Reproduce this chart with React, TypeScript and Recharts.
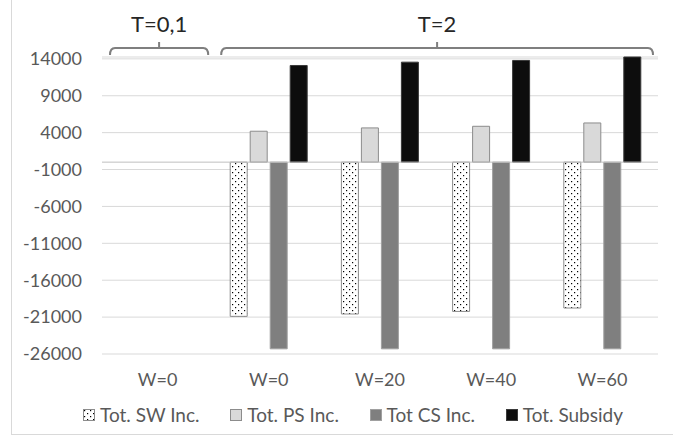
import React from "react";
import {
  BarChart,
  Bar,
  XAxis,
  YAxis,
  CartesianGrid,
  ReferenceLine,
} from "recharts";

// categories on the x axis
const categories = ["W=0", "W=0", "W=20", "W=40", "W=60"];

// series values (first category has no bars)
const swInc = [null, -20900, -20580, -20230, -19770];
const psInc = [null, 4190, 4640, 4860, 5310];
const csInc = [null, -25300, -25300, -25300, -25300];
const subsidy = [null, 13100, 13550, 13780, 14250];

const yTicks = [14000, 9000, 4000, -1000, -6000, -11000, -16000, -21000, -26000];

// period brackets above the plot, by category index
const periods = [
  { label: "T=0,1", from: 0, to: 0 },
  { label: "T=2", from: 1, to: 4 },
];

const data = categories.map((name, i) => ({
  name,
  sw: swInc[i],
  ps: psInc[i],
  cs: csInc[i],
  sub: subsidy[i],
}));

const series = [
  { key: "sw", name: "Tot. SW Inc.", fill: "url(#dots)", stroke: "#8c8c8c" },
  { key: "ps", name: "Tot. PS Inc.", fill: "#d9d9d9", stroke: "#8c8c8c" },
  { key: "cs", name: "Tot CS Inc.", fill: "#7f7f7f", stroke: "#a0a0a0" },
  { key: "sub", name: "Tot. Subsidy", fill: "#0d0d0d", stroke: "#3a3a3a" },
];

const W = 673;
const H = 440;
const PLOT_LEFT = 102;
const PLOT_RIGHT = 658;
const FONT = "Lato, 'Open Sans', sans-serif";

const Brackets = () => {
  const band = (PLOT_RIGHT - PLOT_LEFT) / categories.length;
  return (
    <svg
      width={W}
      height={H}
      style={{ position: "absolute", left: 0, top: 0, pointerEvents: "none" }}
    >
      {periods.map((p) => {
        const x1 = PLOT_LEFT + p.from * band + 8;
        const x2 = PLOT_LEFT + (p.to + 1) * band - 5;
        const mid = (x1 + x2) / 2;
        return (
          <g key={p.label}>
            <path
              d={`M ${x1} 55 Q ${x1} 48 ${x1 + 5} 48 L ${x2 - 5} 48 Q ${x2} 48 ${x2} 55 M ${mid} 48 L ${mid} 42`}
              fill="none"
              stroke="#7f7f7f"
              strokeWidth={2}
            />
            <text
              x={mid}
              y={32}
              textAnchor="middle"
              fontFamily={FONT}
              fontSize={22}
              fill="#262626"
            >
              {p.label}
            </text>
          </g>
        );
      })}
    </svg>
  );
};

const LegendRow = () => (
  <div
    style={{
      position: "absolute",
      left: 83,
      width: 540,
      top: 404,
      display: "flex",
      justifyContent: "space-between",
      fontFamily: FONT,
      fontSize: 19,
      color: "#595959",
      lineHeight: "22px",
    }}
  >
    {series.map((s) => (
      <div key={s.key} style={{ display: "flex", alignItems: "center" }}>
        <svg width={12} height={12} style={{ marginRight: 5 }}>
          <rect x={0.5} y={0.5} width={11} height={11} fill={s.fill} stroke={s.stroke} />
        </svg>
        <span>{s.name}</span>
      </div>
    ))}
  </div>
);

export default function App() {
  return (
    <div
      style={{
        position: "fixed",
        left: 0,
        top: 0,
        width: W,
        height: H,
        background: "#fff",
        overflow: "hidden",
      }}
    >
      <svg width={0} height={0} style={{ position: "absolute" }}>
        <defs>
          <pattern id="dots" width={6} height={6} patternUnits="userSpaceOnUse">
            <rect width={6} height={6} fill="#fff" />
            <rect x={1} y={1} width={1.2} height={1.2} fill="#000" />
            <rect x={4} y={4} width={1.2} height={1.2} fill="#000" />
          </pattern>
        </defs>
      </svg>
      <div
        style={{
          position: "absolute",
          left: 11,
          top: -2,
          width: W,
          height: 436,
          borderLeft: "1px solid #d9d9d9",
          borderBottom: "1px solid #d9d9d9",
        }}
      />
      <div style={{ position: "absolute", left: 0, top: 0 }}>
        <BarChart
          width={W}
          height={H}
          data={data}
          margin={{ top: 57, right: W - PLOT_RIGHT, left: 0, bottom: 56 }}
          barSize={17}
          barGap={3}
        >
          <CartesianGrid vertical={false} stroke="#d9d9d9" />
          <XAxis
            dataKey="name"
            height={30}
            tickLine={false}
            axisLine={false}
            tickSize={0}
            tickMargin={19}
            interval={0}
            tick={{ fill: "#595959", fontSize: 18, fontFamily: FONT }}
          />
          <YAxis
            type="number"
            width={PLOT_LEFT}
            domain={[-26000, 14250]}
            ticks={yTicks}
            interval={0}
            tickLine={false}
            axisLine={false}
            tickSize={0}
            tickMargin={20}
            tick={{ fill: "#595959", fontSize: 18, fontFamily: FONT }}
          />
          <ReferenceLine y={0} stroke="#bfbfbf" />
          {series.map((s) => (
            <Bar
              key={s.key}
              dataKey={s.key}
              name={s.name}
              fill={s.fill}
              stroke={s.stroke}
              strokeWidth={1}
              isAnimationActive={false}
            />
          ))}
        </BarChart>
      </div>
      <Brackets />
      <LegendRow />
    </div>
  );
}
